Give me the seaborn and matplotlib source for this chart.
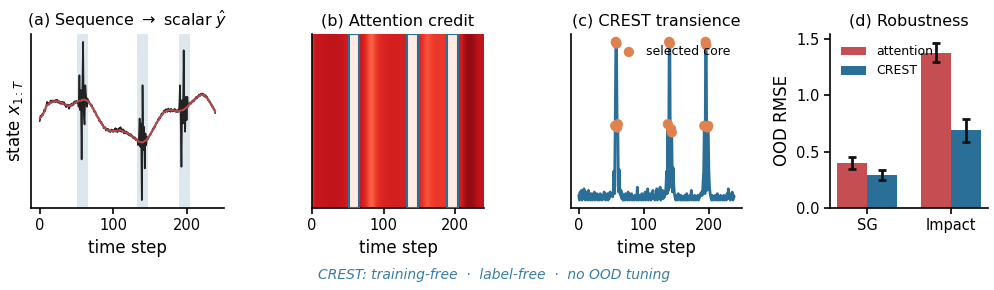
import numpy as np
import pandas as pd
import matplotlib
matplotlib.use("Agg")
import matplotlib.pyplot as plt
import seaborn as sns
from matplotlib.patches import Rectangle

# ---------------- data ----------------
# (a) observed state sequence (t = 0..239)
state_obs = [
    0.27, 0.43, 0.39, 0.48, 0.44, 0.52, 0.61, 0.56, 0.68, 0.75,
    0.85, 0.75, 0.82, 0.77, 0.85, 0.89, 0.82, 0.89, 0.84, 0.89,
    0.89, 0.84, 0.91, 0.85, 0.91, 0.82, 0.86, 0.87, 0.79, 0.85,
    0.79, 0.85, 0.78, 0.84, 0.74, 0.78, 0.69, 0.77, 0.71, 0.76,
    0.64, 0.76, 0.71, 0.80, 0.78, 0.74, 0.84, 0.79, 0.87, 0.81,
    0.88, 0.83, 0.85, 0.70, 1.65, 0.60, 1.20, -0.88, 1.30, 2.65,
    0.50, 0.17, 1.35, 1.05, 0.70, 0.95, 0.86, 0.87, 0.78, 0.80,
    0.72, 0.75, 0.65, 0.66, 0.55, 0.57, 0.55, 0.44, 0.45, 0.37,
    0.38, 0.27, 0.30, 0.21, 0.25, 0.15, 0.17, 0.06, 0.10, 0.09,
    -0.01, 0.05, -0.01, 0.04, -0.04, 0.00, -0.06, 0.00, 0.02, -0.05,
    0.00, -0.05, 0.02, 0.06, -0.05, 0.04, -0.06, 0.01, 0.06, -0.03,
    0.09, -0.05, 0.03, -0.05, 0.02, -0.10, -0.03, -0.10, -0.04, -0.11,
    -0.07, -0.15, -0.11, -0.17, -0.12, -0.19, -0.16, -0.24, -0.20, -0.26,
    -0.22, -0.30, -0.27, -0.30, -0.45, -0.25, 0.35, -0.50, 0.20, -2.10,
    1.35, -0.60, 0.10, -1.15, -0.10, -0.45, -0.20, -0.28, -0.22, -0.20,
    -0.12, -0.14, -0.05, -0.05, 0.05, 0.02, 0.11, 0.09, 0.20, 0.23,
    0.22, 0.33, 0.30, 0.39, 0.35, 0.44, 0.50, 0.45, 0.52, 0.57,
    0.60, 0.53, 0.63, 0.60, 0.55, 0.65, 0.58, 0.63, 0.55, 0.64,
    0.62, 0.56, 0.62, 0.57, 0.64, 0.55, 0.60, 0.54, 0.61, 0.55,
    0.70, 1.35, 0.30, -1.10, 0.90, 0.20, 2.40, 0.60, -0.05, 1.00,
    0.30, 1.00, 0.70, 0.75, 0.80, 0.83, 0.79, 0.87, 0.84, 0.90,
    0.87, 0.95, 0.92, 1.00, 0.95, 1.02, 1.00, 1.07, 1.02, 1.08,
    1.10, 1.05, 1.10, 1.03, 1.07, 1.00, 1.05, 0.97, 1.00, 0.90,
    0.92, 0.84, 0.86, 0.76, 0.78, 0.69, 0.71, 0.62, 0.63, 0.51,
]
# (a) smooth trend (scalar target trace)
trend_t = [0, 5, 10, 15, 20, 25, 30, 35, 40, 45, 50, 55, 60, 65, 70, 75, 80,
           85, 90, 95, 100, 105, 110, 115, 120, 125, 130, 135, 140, 145, 150,
           155, 160, 165, 170, 175, 180, 185, 190, 195, 200, 205, 210, 215,
           220, 225, 230, 235, 239]
trend_v = [0.35, 0.50, 0.75, 0.84, 0.87, 0.86, 0.82, 0.76, 0.72, 0.78, 0.85,
           0.88, 0.92, 0.88, 0.75, 0.55, 0.35, 0.17, 0.03, -0.02, -0.03, -0.02,
           0.00, -0.05, -0.10, -0.17, -0.25, -0.35, -0.37, -0.30, -0.15, 0.05,
           0.25, 0.42, 0.55, 0.60, 0.60, 0.58, 0.58, 0.60, 0.68, 0.80, 0.90,
           1.00, 1.07, 1.04, 0.90, 0.72, 0.55]
core_start = [51, 133, 189]
core_end = [66, 148, 204]

# (b) attention credit, one value per 2 time steps (120 cells over 0..240)
attention = [
    0.63, 0.72, 0.75, 0.76, 0.76, 0.76, 0.76, 0.77, 0.77, 0.78,
    0.78, 0.78, 0.79, 0.79, 0.79, 0.79, 0.79, 0.78, 0.78, 0.77,
    0.77, 0.76, 0.75, 0.74, 0.73, 0.73,
    0.03, 0.04, 0.03, 0.03, 0.04, 0.03, 0.03,
    0.74, 0.74, 0.73, 0.70, 0.67, 0.63, 0.58,
    0.54, 0.53, 0.54, 0.58, 0.62,
    0.65, 0.67, 0.68, 0.69, 0.70,
    0.70, 0.71, 0.71, 0.71, 0.72, 0.72, 0.72, 0.72, 0.72, 0.72,
    0.72, 0.72, 0.72, 0.72, 0.72, 0.72, 0.72,
    0.03, 0.04, 0.03, 0.03, 0.04, 0.03, 0.03,
    0.70, 0.69, 0.67, 0.64, 0.61, 0.58,
    0.56, 0.57, 0.59, 0.61, 0.62,
    0.63, 0.64, 0.64, 0.64, 0.64,
    0.64, 0.64, 0.64, 0.65, 0.65,
    0.03, 0.04, 0.03, 0.03, 0.04, 0.03, 0.03,
    0.72, 0.73, 0.74, 0.78, 0.84, 0.89,
    0.90, 0.91, 0.91, 0.90, 0.89, 0.87,
    0.84, 0.81, 0.79, 0.78, 0.78, 0.78,
]

# (c) CREST transience score (t = 0..239)
crest_score = [
    0.05, 0.02, 0.07, 0.03, 0.08, 0.02, 0.06, 0.03, 0.09, 0.04,
    0.02, 0.07, 0.03, 0.05, 0.02, 0.08, 0.03, 0.06, 0.02, 0.04,
    0.06, 0.02, 0.05, 0.03, 0.07, 0.02, 0.04, 0.03, 0.06, 0.02,
    0.05, 0.03, 0.02, 0.06, 0.03, 0.04, 0.02, 0.05, 0.03, 0.07,
    0.04, 0.02, 0.05, 0.03, 0.06, 0.02, 0.04, 0.03, 0.07, 0.05,
    0.05, 0.06, 0.04, 0.08, 0.20, 0.06, 0.48, 1.00, 0.99, 0.47,
    0.49, 0.07, 0.21, 0.09, 0.05, 0.08, 0.03, 0.06, 0.02, 0.05,
    0.03, 0.02, 0.06, 0.03, 0.04, 0.02, 0.07, 0.03, 0.02, 0.05,
    0.03, 0.06, 0.02, 0.04, 0.03, 0.02, 0.05, 0.03, 0.04, 0.02,
    0.10, 0.03, 0.02, 0.05, 0.03, 0.04, 0.02, 0.06, 0.03, 0.02,
    0.04, 0.03, 0.07, 0.02, 0.05, 0.03, 0.09, 0.02, 0.04, 0.03,
    0.06, 0.02, 0.04, 0.03, 0.08, 0.03, 0.05, 0.02, 0.04, 0.03,
    0.09, 0.02, 0.05, 0.03, 0.04, 0.10, 0.02, 0.06, 0.03, 0.08,
    0.03, 0.05, 0.04, 0.06, 0.10, 0.20, 0.06, 0.49, 0.08, 1.00,
    0.99, 0.10, 0.46, 0.44, 0.07, 0.22, 0.12, 0.06, 0.04, 0.02,
    0.05, 0.03, 0.02, 0.06, 0.03, 0.04, 0.02, 0.05, 0.03, 0.02,
    0.04, 0.03, 0.02, 0.05, 0.03, 0.02, 0.06, 0.02, 0.04, 0.03,
    0.02, 0.05, 0.03, 0.08, 0.02, 0.04, 0.03, 0.02, 0.05, 0.03,
    0.02, 0.04, 0.03, 0.05, 0.02, 0.03, 0.04, 0.06, 0.05, 0.07,
    0.05, 0.12, 0.20, 0.48, 0.06, 1.00, 0.98, 0.08, 0.47, 0.48,
    0.20, 0.10, 0.06, 0.04, 0.02, 0.05, 0.03, 0.02, 0.04, 0.03,
    0.05, 0.02, 0.03, 0.06, 0.02, 0.04, 0.03, 0.02, 0.05, 0.03,
    0.04, 0.02, 0.03, 0.05, 0.02, 0.03, 0.04, 0.02, 0.06, 0.03,
    0.09, 0.03, 0.06, 0.02, 0.04, 0.03, 0.07, 0.02, 0.05, 0.04,
]
selected_core = [56, 57, 58, 59, 60, 137, 139, 140, 142, 143,
                 193, 195, 196, 198, 199]

# (d) robustness
datasets = ["SG", "Impact"]
methods = ["attention", "CREST"]
rmse_attention = [0.40, 1.38]
rmse_crest = [0.29, 0.69]
err_attention = [0.055, 0.085]
err_crest = [0.043, 0.10]

footer = "CREST: training-free  \u00b7  label-free  \u00b7  no OOD tuning"

# ---------------- style ----------------
sns.set_theme(style="ticks")
plt.rcParams.update({
    "font.family": ["DejaVu Sans"],
    "path.simplify": False,
    "axes.titlesize": 11.5,
    "axes.labelsize": 12,
    "xtick.labelsize": 10.5,
    "ytick.labelsize": 10.5,
    "axes.linewidth": 1.2,
    "xtick.major.width": 1.2,
    "ytick.major.width": 1.2,
    "xtick.major.size": 4,
    "ytick.major.size": 4,
    "axes.edgecolor": "black",
    "xtick.color": "black",
    "ytick.color": "black",
    "axes.labelcolor": "black",
    "text.color": "black",
})

RED = "#c44e52"
BLUE = "#2a6f97"
ORANGE = "#e0824f"

W, H = 994, 290
fig = plt.figure(figsize=(W / 100, H / 100), dpi=100)

def px_axes(l, r, t=34, b=208):
    return fig.add_axes([l / W, 1 - b / H, (r - l) / W, (b - t) / H])

axA = px_axes(31, 224)
axB = px_axes(312, 484)
axC = px_axes(571, 742)
axD = px_axes(830, 988)

t = np.arange(len(state_obs))

# ---- (a) ----
for s, e in zip(core_start, core_end):
    axA.axvspan(s, e, color=BLUE, alpha=0.16, lw=0)
sns.lineplot(x=t, y=state_obs, ax=axA, color="#222222", lw=1.2,
             estimator=None, sort=False, zorder=2)
sns.lineplot(x=trend_t, y=trend_v, ax=axA, color=RED, lw=1.5, alpha=0.9,
             estimator=None, sort=False, zorder=3)
axA.set_yticks([])
axA.set_xticks([0, 100, 200])
axA.set_xlabel("time step")
axA.set_ylabel("state $x_{1:T}$")
axA.set_title(r"(a) Sequence $\rightarrow$ scalar $\hat{y}$")
sns.despine(ax=axA)

# ---- (b) ----
att = np.array(attention)[None, :]
axB.imshow(att, cmap="Reds", vmin=0, vmax=1, aspect="auto",
           extent=[0, 2 * len(attention), 0, 1], interpolation="bilinear")
for s, e in zip(core_start, core_end):
    axB.add_patch(Rectangle((s, 0), e - s, 1, facecolor=plt.get_cmap("Reds")(0.06),
                            edgecolor=BLUE, lw=1.5, zorder=3))
axB.set_xlim(0, 2 * len(attention))
axB.set_ylim(0, 1)
axB.set_yticks([])
axB.set_xticks([0, 100, 200])
axB.set_xlabel("time step")
axB.set_title("(b) Attention credit")
sns.despine(ax=axB)

# ---- (c) ----
tc = np.arange(len(crest_score))
sc = np.array(crest_score)
axC.fill_between(tc, 0.1, sc, where=sc > 0.1, interpolate=True,
                 color=BLUE, alpha=0.3, lw=0)
sns.lineplot(x=tc, y=crest_score, ax=axC, color=BLUE, lw=2.0,
             estimator=None, sort=False)
sel_v = [crest_score[i] for i in selected_core]
sns.scatterplot(x=selected_core, y=sel_v, ax=axC, color=ORANGE, s=55,
                edgecolor="none", zorder=5, label="selected core")
axC.legend(frameon=False, fontsize=9, loc="upper right", handletextpad=0.4)
axC.set_yticks([])
axC.set_xticks([0, 100, 200])
axC.set_xlabel("time step")
axC.set_title("(c) CREST transience")
sns.despine(ax=axC)

# ---- (d) ----
df = pd.DataFrame({
    "dataset": datasets * 2,
    "method": [methods[0]] * 2 + [methods[1]] * 2,
    "rmse": rmse_attention + rmse_crest,
})
sns.barplot(data=df, x="dataset", y="rmse", hue="method", ax=axD,
            palette=[RED, BLUE], width=0.72, errorbar=None, saturation=1,
            linewidth=0, edgecolor="none")
errs = [err_attention, err_crest]
for cont, err in zip(axD.containers, errs):
    xs = [b.get_x() + b.get_width() / 2 for b in cont]
    ys = [b.get_height() for b in cont]
    axD.errorbar(xs, ys, yerr=err, fmt="none", ecolor="#111111",
                 elinewidth=2, capsize=3, capthick=2, zorder=4)
axD.set_xlim(-0.45, 1.45)
axD.set_ylim(0, 1.545)
axD.set_yticks([0.0, 0.5, 1.0, 1.5])
axD.set_xlabel("")
axD.set_ylabel("OOD RMSE")
axD.set_title("(d) Robustness")
axD.legend(frameon=False, fontsize=9, loc="upper left")
sns.despine(ax=axD)

fig.text(0.497, 1 - 275 / H, footer, ha="center", va="center",
         fontsize=10, style="italic", color="#3a7ca5")

fig.savefig("out.png", dpi=100)
